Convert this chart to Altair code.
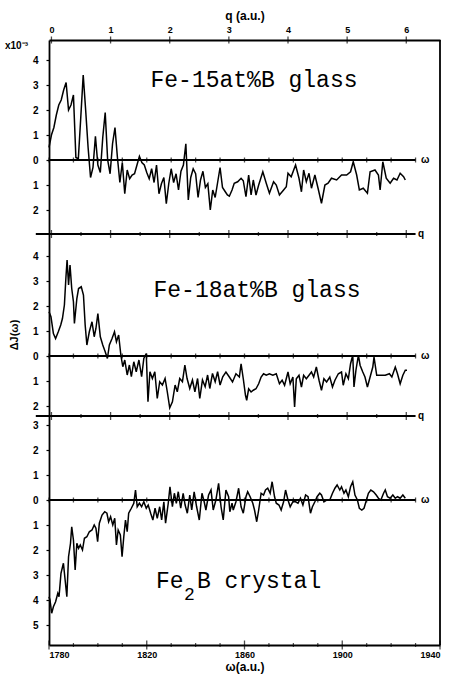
import altair as alt
import pandas as pd

# ---------------- data ----------------
omega_15 = [1780, 1781, 1782, 1783, 1784, 1785, 1786, 1787, 1788, 1789,
            1790, 1791, 1792, 1793, 1794, 1795, 1796, 1797, 1798, 1799,
            1800, 1801, 1802, 1803, 1804, 1805, 1806, 1807, 1808, 1809,
            1810, 1811, 1812, 1813, 1814, 1815, 1816, 1817, 1818, 1819,
            1820, 1821, 1822, 1823, 1824, 1825, 1826, 1827, 1828, 1829,
            1830, 1831, 1832, 1833, 1834, 1835, 1836, 1837, 1838, 1839,
            1840, 1841, 1842, 1843, 1844, 1845, 1846, 1847, 1848, 1849,
            1850, 1851, 1852, 1853,
            1853.8, 1854.9, 1855.8, 1857.2, 1858.6, 1859.5, 1860.6, 1861.7, 1862.7, 1863.6,
            1864.7, 1865.8, 1867.5, 1868.9, 1870.2, 1871.9, 1873.0, 1874.3, 1876.0, 1877.1,
            1877.8, 1879.1, 1880.9, 1882.3, 1883.3, 1884.2, 1885.3, 1886.4, 1887.4, 1888.8,
            1890.1, 1891.5, 1892.9, 1894.2, 1895.6, 1897.7, 1899.7, 1901.8, 1903.4, 1904.5,
            1905.9, 1907.0, 1908.6, 1910.3, 1911.4, 1913.4, 1914.8, 1915.5, 1916.6, 1918.0,
            1919.6, 1921.0, 1922.4, 1923.7, 1925.1, 1925.8]
dj_15 = [0.5, 1.0, 1.3, 1.8, 2.2, 2.4, 2.8, 3.1, 2.0, 2.2,
         2.6, 0.1, 0.05, 1.7, 3.4, 2.0, 0.5, -0.7, -0.3, 0.95,
         -0.2, -0.5, 0.9, 1.9, 0.0, -0.55, 0.65, 1.3, 0.1, -0.9,
         -0.1, -1.35, -0.4, -0.75, -0.6, -0.55, -0.2, 0.15, -0.1, -0.2,
         -0.5, -0.75, -0.35, -0.9, -0.2, -1.35, -0.95, -0.7, -1.75, -0.95,
         -0.35, -0.9, -0.55, -1.2, -0.45, -0.2, 0.65, -1.6, -0.7, -0.35,
         -0.55, -1.5, -0.8, -0.45, -1.1, -0.95, -2.0, -1.2, -1.5, -0.9,
         -0.3, -1.1, -1.25, -1.4,
         -1.45, -1.2, -0.93, -0.87, -0.73, -0.83, -1.47, -0.6, -1.4, -0.8,
         -1.4, -1.0, -0.47, -0.93, -1.33, -0.87, -1.0, -1.4, -1.2, -1.07,
         -0.53, -0.67, -0.2, -0.73, -1.27, -0.4, -0.87, -0.53, -1.13, -0.6,
         -1.13, -1.73, -1.0, -0.93, -0.73, -0.8, -0.6, -0.6, -0.47, -0.07,
         -0.6, -1.2, -1.13, -1.33, -0.47, -0.4, -0.6, -1.2, -0.07, -0.73,
         -0.93, -0.73, -0.8, -0.53, -0.67, -0.8]

omega_18 = [1780.0, 1780.8, 1781.8, 1782.7, 1783.8, 1784.8, 1785.5, 1786.3, 1786.9, 1787.4,
            1788.0, 1788.6, 1789.3, 1790.0, 1790.4, 1791.4, 1792.1, 1793.2, 1794.1, 1794.8,
            1795.5, 1796.5, 1797.6, 1798.5, 1799.2, 1800.0, 1801.0, 1802.0, 1803.0, 1803.9,
            1804.7, 1805.8, 1806.8, 1807.6, 1808.5, 1809.4, 1810.2, 1811.0, 1812.0, 1812.9,
            1813.7, 1814.7, 1815.7, 1816.8, 1817.9, 1818.8, 1819.8, 1820.5, 1821.3, 1822.3,
            1823.3, 1824.3, 1825.3, 1826.4, 1827.5, 1828.4, 1829.4, 1830.5, 1831.6, 1832.5,
            1833.5, 1834.6, 1835.6, 1836.5, 1837.6, 1838.7, 1839.7, 1840.8, 1841.7, 1842.8,
            1843.9, 1844.9, 1845.8, 1846.9, 1848.0, 1849.0, 1850.0, 1851.1,
            1852.4, 1853.8, 1855.1, 1856.5, 1857.9, 1858.6, 1859.5, 1860.4, 1860.9, 1861.7,
            1862.7, 1863.6, 1864.7, 1865.8, 1866.8, 1867.8, 1868.9, 1870.2, 1871.6, 1873.0,
            1874.3, 1875.4, 1876.4, 1877.8, 1878.7, 1879.8, 1880.5, 1881.2, 1882.3, 1883.3,
            1884.2, 1885.3, 1886.4, 1887.4, 1888.3, 1889.4, 1890.5, 1891.5, 1892.5, 1893.6,
            1894.9, 1896.0, 1897.0, 1898.4, 1899.7, 1900.4, 1901.5, 1902.5, 1903.4, 1904.3,
            1904.8, 1905.6, 1906.6, 1907.3, 1908.4, 1909.3, 1910.3, 1911.4, 1912.5, 1913.0,
            1914.1, 1915.8, 1917.6, 1919.3, 1920.3, 1921.7, 1922.6, 1923.7, 1924.8, 1925.8,
            1926.5]
dj_18 = [1.77, 1.57, 0.9, 0.7, 0.97, 1.24, 1.5, 2.04, 3.1, 3.84,
         2.84, 3.64, 2.7, 2.17, 1.3, 2.3, 2.7, 2.77, 2.44, 1.24,
         0.44, 0.97, 1.37, 0.77, 1.1, 1.7, 0.77, 0.44, 0.17, -0.1,
         0.44, 0.7, 0.97, 0.57, 0.84, 0.04, -0.43, -0.16, -0.76, -0.36,
         -0.83, -0.23, -0.63, -0.16, -0.83, -0.1, 0.1, -1.83, -0.63, -0.9,
         -0.63, -1.7, -1.03, -1.16, -0.9, -1.43, -2.07, -1.83, -1.16, -1.43,
         -0.9, -1.03, -0.36, -0.9, -1.3, -0.96, -1.43, -0.9, -1.7, -0.96,
         -1.23, -0.76, -1.3, -0.7, -1.03, -0.63, -1.16, -0.83,
         -0.64, -0.84, -1.04, -0.71, -0.84, -0.31, -0.91, -1.57, -1.77, -1.31,
         -1.44, -1.37, -1.31, -1.11, -0.84, -0.71, -0.77, -0.71, -0.77, -0.71,
         -1.11, -0.97, -1.17, -0.64, -1.11, -0.84, -2.04, -0.91, -0.77, -1.24,
         -0.77, -0.91, -0.77, -0.64, -0.84, -0.44, -0.97, -1.37, -0.91, -1.04,
         -0.84, -1.24, -0.97, -0.71, -0.64, -1.17, -0.71, -0.91, -0.31, 0.03,
         -1.24, -0.57, 0.03, -0.37, -0.64, -0.84, -1.24, -0.84, -0.44, -0.04,
         -0.77, -0.77, -0.77, -0.71, -0.84, -0.44, -0.71, -1.11, -0.77, -0.57,
         -0.57]

omega_fe2b = [1780.0, 1780.4, 1781.1, 1781.8, 1782.7, 1783.6, 1784.1, 1784.9, 1785.9, 1786.6,
              1787.3, 1788.0, 1788.8, 1789.3, 1790.0, 1790.7, 1791.4, 1792.1, 1792.8, 1793.7,
              1794.5, 1795.5, 1796.5, 1797.6, 1798.5, 1799.2, 1799.9, 1800.6, 1801.7, 1802.8,
              1803.7, 1804.4, 1805.2, 1806.1, 1806.9, 1807.6, 1808.3, 1809.2, 1809.9, 1810.6,
              1811.3, 1812.0, 1812.6, 1813.7, 1814.7, 1815.4, 1816.1, 1817.0, 1817.9, 1818.8,
              1819.8, 1820.6, 1821.6, 1822.5, 1823.4, 1824.3, 1825.3, 1826.1, 1827.0, 1827.7,
              1828.8, 1829.5, 1830.5, 1831.3, 1832.1, 1832.9, 1833.9, 1834.9, 1835.7, 1836.6,
              1837.6, 1838.4, 1839.4, 1840.4, 1841.5, 1842.6, 1843.5, 1844.2, 1845.3, 1846.3,
              1847.2, 1848.3, 1849.4, 1850.4, 1851.3, 1852.4, 1853.5,
              1854.0, 1854.9, 1855.4, 1856.5, 1857.6, 1858.6, 1859.5, 1860.6, 1861.3, 1862.3,
              1863.4, 1864.1, 1865.0, 1865.8, 1866.8, 1867.8, 1868.6, 1869.5, 1870.5, 1871.3,
              1872.3, 1873.0, 1874.1, 1875.0, 1876.0, 1876.8, 1877.8, 1878.7, 1879.8, 1880.9,
              1881.9, 1882.9, 1883.9, 1885.0, 1886.0, 1887.0, 1887.8, 1888.8, 1889.7, 1890.8,
              1891.5, 1892.5, 1893.6, 1894.9, 1896.0, 1897.0, 1897.9, 1899.0, 1899.7, 1900.7,
              1901.5, 1902.5, 1903.4, 1904.3, 1905.2, 1906.2, 1907.0, 1908.0, 1908.9, 1909.7,
              1910.7, 1911.7, 1912.8, 1913.9, 1914.8, 1915.8, 1916.9, 1917.6, 1918.5, 1919.6,
              1920.7, 1921.7, 1922.6, 1923.7, 1924.8, 1925.8]
dj_fe2b = [-3.87, -4.0, -4.53, -4.27, -4.07, -3.73, -3.87, -2.93, -2.53, -3.2,
           -3.87, -2.27, -1.73, -1.07, -1.6, -2.8, -1.73, -1.93, -1.8, -2.0,
           -1.53, -1.47, -1.27, -1.2, -1.0, -1.13, -1.67, -0.93, -0.6, -0.47,
           -0.53, -0.87, -0.67, -1.0, -0.73, -1.8, -1.2, -1.4, -2.27, -1.47,
           -0.8, -1.27, -0.53, -0.33, -0.13, 0.4, -0.27, -0.13, -0.27, -0.07,
           -0.33, -0.2, -0.53, -0.8, -0.33, -0.73, -0.27, -0.8, -0.07, -0.93,
           -0.13, 0.53, -0.27, 0.27, -0.13, 0.33, -0.33, 0.27, -0.2, -0.53,
           0.2, -0.4, 0.33, -0.27, -0.8, 0.27, -0.07, -0.4, 0.2, 0.4,
           -0.4, 0.0, 0.67, -0.27, -0.8, 0.4, 0.13,
           -0.47, -0.13, -0.4, -0.07, 0.47, -0.27, -0.53, 0.13, 0.33, 0.13,
           -0.13, -0.4, -0.87, -0.4, 0.27, 0.2, 0.4, 0.47, 0.27, 0.73,
           0.13, -0.13, -0.2, -0.4, -0.07, 0.4, 0.0, -0.27, -0.07, -0.07,
           -0.13, 0.07, -0.2, 0.2, 0.13, -0.53, -0.27, -0.07, 0.13, 0.27,
           0.2, -0.07, 0.0, 0.0, 0.27, 0.47, 0.6, 0.4, 0.53, 0.27,
           0.4, 0.13, 0.53, 0.73, 0.2, 0.0, -0.33, -0.4, -0.33, -0.07,
           0.27, 0.4, 0.33, 0.2, 0.07, 0.0, 0.27, 0.4, 0.13, 0.07,
           0.2, 0.07, 0.13, 0.07, 0.2, 0.07]

q_major = [0, 1, 2, 3, 4, 5, 6]
q_minor = [0.5, 1.5, 2.5, 3.5, 4.5, 5.5]
omega_zero_ticks = [1780, 1790, 1800, 1810, 1820, 1830, 1840, 1850,
                    1860, 1870, 1880, 1890, 1900, 1910, 1920, 1930]
omega_bottom_minor = [1790, 1800, 1810, 1830, 1840, 1850, 1870, 1880,
                      1890, 1910, 1920, 1930]
omega_bottom_labels = [1780, 1820, 1860, 1900, 1940]
yticks_15 = [-2, -1, 0, 1, 2, 3, 4]
yticks_18 = [-2, -1, 0, 1, 2, 3, 4]
yticks_fe2b = [-5, -4, -3, -2, -1, 0, 1, 2, 3]

# ---------------- layout / style ----------------
Q0, Q_STEP = 1781.0, 24.2          # omega position of q = 0 and omega per unit q
W = 391
H1, H2, H3 = 194, 182, 229
FONT = "Liberation Sans"
MONO = "Liberation Mono"
INK = "black"

x_scale = alt.Scale(domain=[1780, 1940], nice=False, zero=False)


def y_axis(values):
    return alt.Axis(values=values, labelExpr="abs(datum.value)", title=None,
                    grid=False, tickSize=3, tickWidth=1.2, tickColor=INK,
                    domainColor=INK, domainWidth=1.8, labelColor=INK,
                    labelFont=FONT, labelFontWeight="bold", labelFontSize=10,
                    labelPadding=8)


top_axis = alt.Axis(orient="top", values=[Q0 + Q_STEP * q for q in q_major],
                    labelExpr=f"round((datum.value - {Q0}) / {Q_STEP})",
                    title="q (a.u.)", titleFont=FONT, titleFontSize=12,
                    titleFontWeight="bold", titlePadding=3, titleColor=INK,
                    ticks=False, grid=False, domainColor=INK, domainWidth=1.8,
                    labelFont=FONT, labelFontWeight="bold", labelFontSize=9,
                    labelPadding=6, labelColor=INK)
bottom_axis = alt.Axis(orient="bottom", values=omega_bottom_labels, format="d",
                       title="ω(a.u.)", titleFont=FONT, titleFontSize=12,
                       titleFontWeight="bold", titleColor=INK, titlePadding=2,
                       ticks=False, grid=False, domainColor=INK, domainWidth=1.8,
                       labelFont=FONT, labelFontWeight="bold", labelFontSize=9,
                       labelPadding=5, labelColor=INK)


class Panel:
    """Holds the x / y encodings shared by every layer of one panel."""

    def __init__(self, ydom, yvals, xaxis):
        self.ys = alt.Scale(domain=ydom, nice=False, zero=False)
        self.ya = y_axis(yvals)
        self.xa = xaxis

    def x(self, field):
        if self.xa is None:
            return alt.X(field, type="quantitative", scale=x_scale, axis=None)
        return alt.X(field, type="quantitative", scale=x_scale, axis=self.xa)

    def y(self, field):
        return alt.Y(field, type="quantitative", scale=self.ys, axis=self.ya)

    def line(self, omega, dj):
        return alt.Chart(pd.DataFrame({"omega": omega, "dj": dj})).mark_line(
            color=INK, strokeWidth=1.5, clip=False).encode(
            x=self.x("omega"), y=self.y("dj"))

    def zero_line(self):
        rule = alt.Chart(pd.DataFrame({"omega": [1780], "w1": [1930], "dj": [0]})).mark_rule(
            color=INK, strokeWidth=1.8, clip=False).encode(
            x=self.x("omega"), x2="w1:Q", y=self.y("dj"))
        ticks = alt.Chart(pd.DataFrame({"omega": omega_zero_ticks,
                                        "dj": [0] * len(omega_zero_ticks)})).mark_tick(
            color=INK, size=5, thickness=1.3, orient="vertical", clip=False).encode(
            x=self.x("omega"), y=self.y("dj"))
        lab = alt.Chart(pd.DataFrame({"dj": [0], "t": ["ω"]})).mark_text(
            font=FONT, fontWeight="bold", fontSize=10, color=INK, align="left",
            baseline="middle", clip=False).encode(
            x=alt.value(372), y=self.y("dj"), text="t:N")
        return [rule, ticks, lab]

    def q_ticks(self, qs, size, ypix):
        return alt.Chart(pd.DataFrame({"q": qs})).transform_calculate(
            omega=f"{Q0} + datum.q * {Q_STEP}").mark_tick(
            color=INK, size=size, thickness=1.3, orient="vertical", clip=False).encode(
            x=self.x("omega"), y=alt.value(ypix))

    def q_line(self):
        rule = alt.Chart(pd.DataFrame({"omega": [1774.6], "w1": [1930]})).mark_rule(
            color=INK, strokeWidth=1.8, clip=False).encode(
            x=self.x("omega"), x2="w1:Q", y=alt.value(0))
        lab = alt.Chart(pd.DataFrame({"t": ["q"]})).mark_text(
            font=FONT, fontWeight="bold", fontSize=10, color=INK, align="left",
            baseline="middle", clip=False).encode(
            x=alt.value(369), y=alt.value(0), text="t:N")
        return [rule, self.q_ticks(q_major, 8, 0), self.q_ticks(q_minor, 4, 0), lab]


def right_border(h):
    return alt.Chart(pd.DataFrame({"a": [0]})).mark_rule(
        color=INK, strokeWidth=1.8, clip=False).encode(
        x=alt.value(W), y=alt.value(0), y2=alt.value(h))


def label(text, x, y, size=23, font=MONO, align="center", weight="normal",
          angle=0, baseline="alphabetic"):
    return alt.Chart(pd.DataFrame({"t": [text]})).mark_text(
        font=font, fontSize=size, color=INK, align=align, baseline=baseline,
        fontWeight=weight, angle=angle, clip=False).encode(
        x=alt.value(x), y=alt.value(y), text="t:N")


# ---------------- panel 1 : Fe-15at%B glass ----------------
p1 = Panel([-2.96, 4.8], yticks_15, top_axis)
bounds_rule = alt.Chart(pd.DataFrame({"a": [0]})).mark_rule(
    strokeOpacity=0, clip=False).encode(
    x=alt.value(-49), x2=alt.value(402), y=alt.value(-40), y2=alt.value(637))
panel1 = alt.layer(
    bounds_rule, p1.line(omega_15, dj_15), *p1.zero_line(),
    p1.q_ticks(q_major, 7, 0), right_border(H1),
    label("Fe-15at%B glass", 205, 47),
    label("x10⁻³", -44, 9, size=10, font=FONT, align="left", weight="bold"),
).properties(width=W, height=H1)

# ---------------- panel 2 : Fe-18at%B glass ----------------
p2 = Panel([-2.4, 4.88], yticks_18, None)
panel2 = alt.layer(
    p2.line(omega_18, dj_18), *p2.zero_line(), *p2.q_line(), right_border(H2),
    label("Fe-18at%B glass", 208, 63),
    label("ΔJ(ω)", -34, 101, size=11, font=FONT, weight="bold", angle=270,
          baseline="middle"),
).properties(width=W, height=H2)

# ---------------- panel 3 : Fe2B crystal ----------------
p3 = Panel([-5.8, 3.36], yticks_fe2b, bottom_axis)
bot_major = alt.Chart(pd.DataFrame({"omega": omega_bottom_labels})).mark_tick(
    color=INK, size=9, thickness=1.3, orient="vertical", clip=False).encode(
    x=p3.x("omega"), y=alt.value(H3))
bot_minor = alt.Chart(pd.DataFrame({"omega": omega_bottom_minor})).mark_tick(
    color=INK, size=4, thickness=1.2, orient="vertical", clip=False).encode(
    x=p3.x("omega"), y=alt.value(H3))
panel3 = alt.layer(
    p3.line(omega_fe2b, dj_fe2b), *p3.zero_line(), *p3.q_line(),
    bot_major, bot_minor, right_border(H3),
    label("Fe", 107, 172, align="left"),
    label("2", 135, 184, size=18, align="left"),
    label("B crystal", 148, 172, align="left"),
).properties(width=W, height=H3)

chart = alt.vconcat(panel1, panel2, panel3, spacing=0, bounds="flush").properties(
    padding=0, background="white"
).configure_view(strokeOpacity=0)

chart.save("out.html", embed_options={"renderer": "svg", "actions": False})
